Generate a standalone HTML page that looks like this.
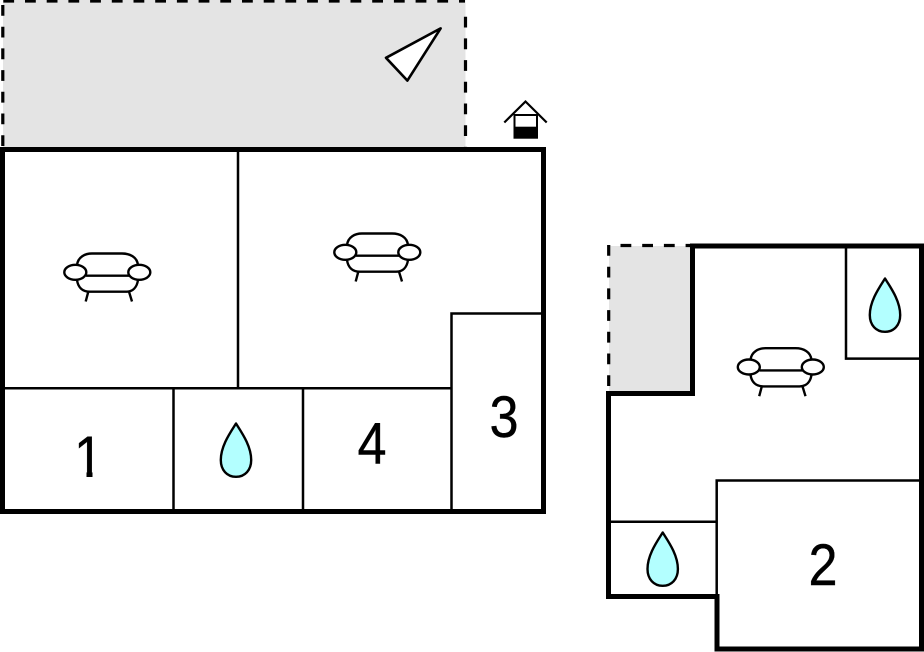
<!DOCTYPE html>
<html>
<head>
<meta charset="utf-8">
<style>
html,body{margin:0;padding:0;background:#fff;width:924px;height:652px;overflow:hidden}
svg{display:block}
text{font-family:"Liberation Sans",sans-serif;font-size:58px;fill:#000;stroke:#000;stroke-width:.4;text-anchor:middle}
</style>
</head>
<body>
<svg width="924" height="652" viewBox="0 0 924 652" xmlns="http://www.w3.org/2000/svg">
<defs>
<g id="sofa" fill="none" stroke="#000" stroke-width="2.400">
<path d="M77 265 C78 257 85 253.500 92 253.500 L122 253.500 C130 253.500 137 257 138 265"/>
<path d="M86 275.700 L129 275.700"/>
<path d="M77 280 C78 287 82 291.700 90 291.700 L126 291.700 C133 291.700 137 287 138 280"/>
<path d="M88.300 291.700 L85.700 301.500 M129 291.700 L132 301.500"/>
<ellipse cx="75.300" cy="272.300" rx="11" ry="7.500" fill="#fff"/>
<ellipse cx="139.300" cy="272.300" rx="11" ry="7.500" fill="#fff"/>
</g>
<path id="drop" d="M236 423.500 C230 433 220.800 446 220.800 460 C220.800 470 227 476.800 236 476.800 C245 476.800 251.200 470 251.200 460 C251.200 446 242 433 236 423.500 Z" fill="#b3ffff" stroke="#000" stroke-width="2.400" stroke-linejoin="round"/>
<clipPath id="one">
<rect x="70" y="430" width="30" height="41"/>
<rect x="86.500" y="470" width="6" height="7"/>
</clipPath>
</defs>

<!-- terraces -->
<rect x="3" y="0" width="462.500" height="147" fill="#e4e4e4"/>
<rect x="609" y="246" width="82" height="146" fill="#e4e4e4"/>
<g fill="none" stroke="#000" stroke-width="3.200" stroke-dasharray="10.800 10.900">
<path d="M3.300 1 L465 1"/>
<path d="M2.800 5 L2.800 147"/>
<path d="M465.500 16.700 L465.500 147"/>
<path d="M620.500 245.500 L692 245.500"/>
<path d="M608.700 245 L608.700 392"/>
</g>

<!-- left plan -->
<g fill="none" stroke="#000" stroke-width="2.500">
<path d="M238 150 L238 388.300"/>
<path d="M3 388.300 L451.500 388.300"/>
<path d="M173.500 388.300 L173.500 511"/>
<path d="M303 388.300 L303 511"/>
<path d="M451.500 511 L451.500 313.500 L543 313.500"/>
</g>
<rect x="2.500" y="149.500" width="541" height="362" fill="none" stroke="#000" stroke-width="5"/>

<!-- right plan -->
<g fill="none" stroke="#000" stroke-width="2.500">
<path d="M846 246 L846 358.600 L921 358.600"/>
<path d="M716.700 597 L716.700 480.500 L921 480.500"/>
<path d="M610 521.700 L717 521.700"/>
</g>
<path d="M690 246 L921.500 246 L921.500 649 L717 649 L717 596.500 L608.500 596.500 L608.500 393.500 L692.500 393.500 L692.500 246" fill="none" stroke="#000" stroke-width="5"/>

<!-- north arrow -->
<path d="M440.600 28.400 L386 57.800 L407.400 80.600 Z" fill="#fff" stroke="#000" stroke-width="2.600" stroke-linejoin="round"/>

<!-- house -->
<rect x="514" y="115" width="23.500" height="23.300" fill="#fff" stroke="none"/>
<rect x="513.500" y="126.700" width="24.500" height="12" fill="#000"/>
<path d="M514.500 127 L514.500 115 L537 115 L537 127" fill="none" stroke="#000" stroke-width="2"/>
<path d="M504.300 122.500 L525.500 101.500 L546.700 122.500" fill="none" stroke="#000" stroke-width="2.200"/>

<!-- sofas -->
<use href="#sofa"/>
<use href="#sofa" transform="translate(270 -20)"/>
<use href="#sofa" transform="translate(673.500 94.700)"/>

<!-- drops -->
<use href="#drop"/>
<use href="#drop" transform="translate(426.700 109)"/>
<use href="#drop" transform="translate(649 -145)"/>

<!-- labels -->
<g clip-path="url(#one)"><text transform="translate(88.500 477) scale(.9 1)">1</text></g>
<text transform="translate(372 463.500) scale(.9 1)">4</text>
<text transform="translate(504 437) scale(.9 1)">3</text>
<text transform="translate(823 585) scale(.9 1)">2</text>
</svg>
</body>
</html>
